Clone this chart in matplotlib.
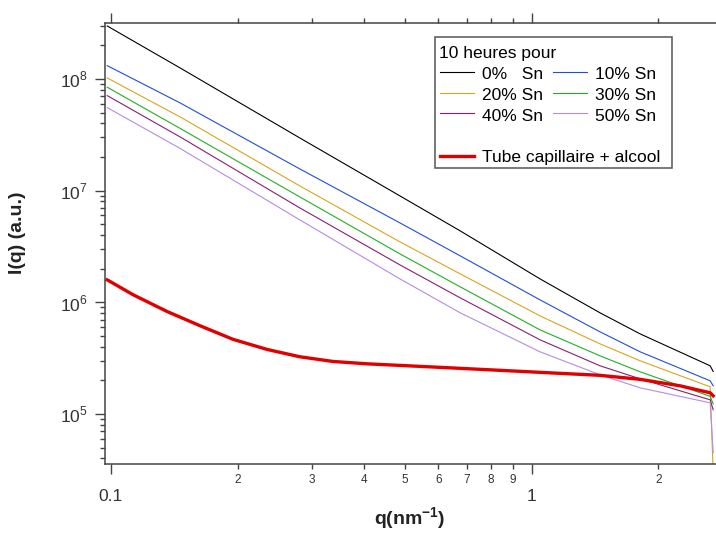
import matplotlib
matplotlib.use("Agg")
import matplotlib.pyplot as plt
from matplotlib.lines import Line2D
from matplotlib.patches import Rectangle
from matplotlib.ticker import FixedLocator, FixedFormatter, NullFormatter

plt.rcParams["font.family"] = ["Liberation Sans", "DejaVu Sans"]
plt.rcParams["mathtext.fontset"] = "custom"
plt.rcParams["mathtext.rm"] = "Liberation Sans"
plt.rcParams["mathtext.bf"] = "Liberation Sans:bold"

# data (q in nm^-1, intensity in a.u.)
Q_SN = [0.098, 0.146, 0.281, 0.486, 0.676, 1.046, 1.453, 1.809, 2.654, 2.698]
I_0 = [2.98e8, 1.255e8, 2.963e7, 8.97e6, 4.357e6, 1.62e6, 8.04e5, 5.21e5, 2.696e5, 2.40e5]
I_10 = [1.315e8, 6.10e7, 1.564e7, 5.14e6, 2.603e6, 1.051e6, 5.43e5, 3.60e5, 1.979e5, 1.785e5]
I_20 = [1.021e8, 4.57e7, 1.102e7, 3.474e6, 1.796e6, 7.55e5, 4.24e5, 2.99e5, 1.748e5, 3.0e4]
I_30 = [8.43e7, 3.605e7, 8.78e6, 2.713e6, 1.374e6, 5.66e5, 3.31e5, 2.382e5, 1.438e5, 1.23e5]
I_40 = [7.09e7, 3.025e7, 7.00e6, 2.162e6, 1.095e6, 4.61e5, 2.696e5, 2.062e5, 1.337e5, 1.088e5]
I_50 = [5.535e7, 2.387e7, 5.47e6, 1.62e6, 8.04e5, 3.60e5, 2.239e5, 1.713e5, 1.257e5, 4.5e4]

Q_TUBE = [0.098, 0.113, 0.136, 0.163, 0.195, 0.235, 0.281, 0.337, 0.406, 0.486,
          0.639, 0.841, 1.046, 1.453, 1.809, 2.252, 2.654, 2.698]
I_TUBE = [1.587e6, 1.165e6, 8.26e5, 6.15e5, 4.655e5, 3.78e5, 3.25e5, 2.95e5, 2.81e5, 2.72e5,
          2.587e5, 2.457e5, 2.357e5, 2.216e5, 2.04e5, 1.785e5, 1.545e5, 1.452e5]

SERIES = [("0%   Sn", I_0, "#000000"),
          ("10% Sn", I_10, "#1f4fd8"),
          ("20% Sn", I_20, "#d9a520"),
          ("30% Sn", I_30, "#22b022"),
          ("40% Sn", I_40, "#8b1f72"),
          ("50% Sn", I_50, "#b58be8")]
TUBE_LABEL = "Tube capillaire + alcool"
LEGEND_TITLE = "10 heures pour"

X_MAJOR = [0.1, 1]
X_MAJOR_LABELS = ["0.1", "1"]
X_MINOR = [0.2, 0.3, 0.4, 0.5, 0.6, 0.7, 0.8, 0.9, 2]
X_MINOR_LABELS = ["2", "3", "4", "5", "6", "7", "8", "9", "2"]
Y_MAJOR = [1e5, 1e6, 1e7, 1e8]
Y_MAJOR_LABELS = ["$10^{5}$", "$10^{6}$", "$10^{7}$", "$10^{8}$"]

W, H = 716, 533


def px(x, y):
    """ pixel position -> figure fraction """
    return x / W, 1 - y / H


fig = plt.figure(figsize=(W / 100, H / 100), dpi=100)
ax = fig.add_axes([105 / W, 1 - 464 / H, 611 / W, 441 / H])

for label, vals, color in SERIES:
    ax.plot(Q_SN, vals, color=color, lw=0.8)
ax.plot(Q_TUBE, I_TUBE, color="#e00000", lw=2.4)

ax.set_xscale("log")
ax.set_yscale("log")
ax.set_xlim(0.0968, 2.74)
ax.set_ylim(3.56e4, 3.17e8)

spine_color = "#444444"
ax.spines["right"].set_visible(False)
for side in ["left", "top", "bottom"]:
    ax.spines[side].set_color(spine_color)
    ax.spines[side].set_linewidth(1.1)

ax.xaxis.set_major_locator(FixedLocator(X_MAJOR))
ax.xaxis.set_major_formatter(FixedFormatter(X_MAJOR_LABELS))
ax.xaxis.set_minor_locator(FixedLocator(X_MINOR))
ax.xaxis.set_minor_formatter(FixedFormatter(X_MINOR_LABELS))

ax.yaxis.set_major_locator(FixedLocator(Y_MAJOR))
ax.yaxis.set_major_formatter(FixedFormatter(Y_MAJOR_LABELS))
y_minor = [m * 10.0 ** e for e in range(4, 9) for m in range(2, 10)]
ax.yaxis.set_minor_locator(FixedLocator(y_minor))
ax.yaxis.set_minor_formatter(NullFormatter())

ax.tick_params(which="both", direction="out", top=True, right=False,
               labeltop=False, color=spine_color, labelcolor="#333333")
ax.tick_params(which="major", length=7.2, width=1.0)
ax.tick_params(which="minor", length=3.6, width=1.0)
ax.tick_params(axis="x", which="major", labelsize=12.5, pad=10.5)
ax.tick_params(axis="x", which="minor", labelsize=8.5, pad=3.5)
ax.tick_params(axis="y", which="major", labelsize=12.5, pad=5)

fig.text(*px(17, 233), "I(q) (a.u.)", rotation=90, ha="center", va="center",
         fontsize=14, fontweight="bold", color="#222222")
fig.text(410 / W, 0.002, r"q(nm$^{\mathbf{-1}}$)", ha="center", va="bottom",
         fontsize=14, fontweight="bold", color="#222222")

# legend drawn by hand to get the two column + extra row layout
x0, y0 = px(435, 168)
x1, y1 = px(671.7, 36.7)
fig.patches.append(Rectangle((x0, y0), x1 - x0, y1 - y0, transform=fig.transFigure,
                             facecolor="white", edgecolor="#555555", lw=1.1, zorder=5))
fig.text(*px(439, 58.3), LEGEND_TITLE, fontsize=12.5, va="baseline", zorder=6)
rows = [(71.7, 79.3), (92.7, 100), (113.3, 120.7)]
cols = [(440, 474, 482), (553, 587, 595)]
for i, (label, vals, color) in enumerate(SERIES):
    ly, ty = rows[i // 2]
    lx0, lx1, tx = cols[i % 2]
    fig.lines.append(Line2D([px(lx0, ly)[0], px(lx1, ly)[0]], [px(lx0, ly)[1]] * 2,
                            transform=fig.transFigure, color=color, lw=0.8, zorder=6))
    fig.text(*px(tx, ty), label, fontsize=12.5, va="baseline", zorder=6)
fig.lines.append(Line2D([px(440, 155.7)[0], px(474, 155.7)[0]], [px(440, 155.7)[1]] * 2,
                        transform=fig.transFigure, color="#e00000", lw=2.4, zorder=6))
fig.text(*px(482, 161.7), TUBE_LABEL, fontsize=12.5, va="baseline", zorder=6)

fig.savefig("out.png", dpi=100)
